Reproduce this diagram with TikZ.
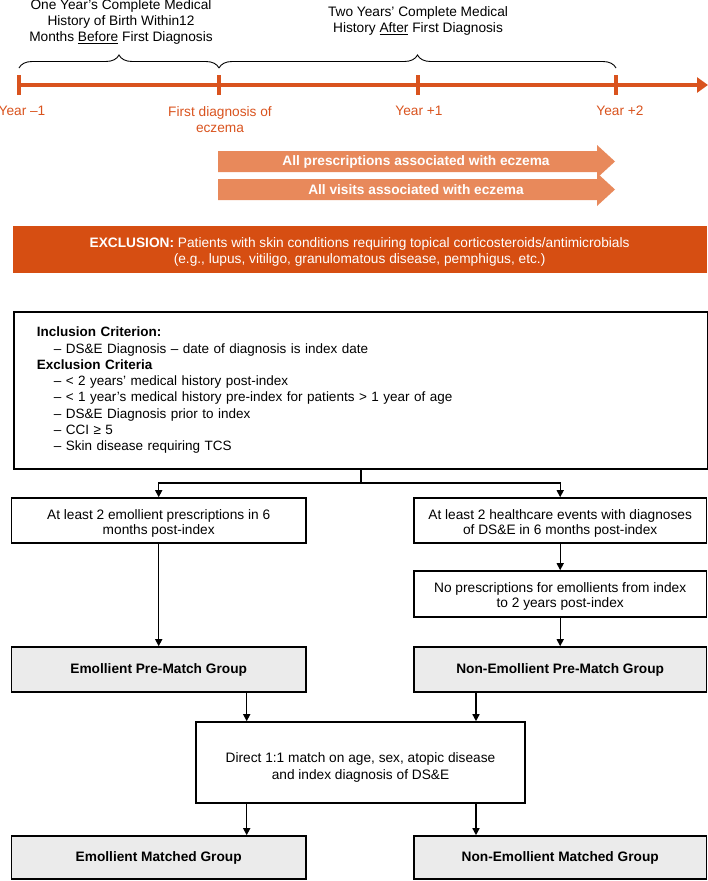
\documentclass[tikz,border=0pt]{standalone}
\usepackage{fontspec}
\setmainfont{Liberation Sans}
\usetikzlibrary{arrows.meta,decorations.pathreplacing,calc}
\definecolor{tlorange}{HTML}{D9531E}
\definecolor{arrorange}{HTML}{E8895B}
\definecolor{barorange}{HTML}{D64E12}
\definecolor{grpgray}{HTML}{EBEBEB}
\tikzset{
  hdr/.style={align=center, inner sep=0pt, font=\fontsize{13.7}{16}\selectfont},
  lbl/.style={align=center, inner sep=0pt, text=tlorange, font=\fontsize{13.7}{16}\selectfont},
  tlline/.style={line width=3.5pt, tlorange},
  tick/.style={line width=3.5pt, tlorange},
  bracepath/.style={decorate, decoration={brace, amplitude=13pt}, line width=0.9pt},
  bigarrow/.style={fill=arrorange},
  arrtext/.style={text=white, inner sep=0pt, font=\fontsize{13.7}{16}\selectfont\bfseries},
  exbar/.style={fill=barorange, minimum width=694pt, minimum height=47pt, inner sep=0pt},
  extext/.style={text=white, align=center, inner sep=0pt, font=\fontsize{13.7}{16.5}\selectfont},
  critbox/.style={draw, line width=1.6pt, align=left, text width=647.7pt, minimum height=157pt, inner xsep=23pt, inner ysep=0pt, font=\fontsize{13.5}{16.3}\selectfont},
  flowbox/.style={draw, line width=1.6pt, inner sep=0pt},
  boxtext/.style={align=center, inner sep=0pt, font=\fontsize{13.7}{15.7}\selectfont},
  grpbox/.style={draw, line width=1.6pt, fill=grpgray, align=center, inner sep=0pt, font=\bfseries\fontsize{13.7}{15.7}\selectfont},
  conn/.style={line width=1.4pt, -{Triangle[length=7pt,width=7pt]}},
  plainconn/.style={line width=1.4pt}
}
\begin{document}
\begin{tikzpicture}[x=1pt,y=-1pt]
\useasboundingbox (0,0) rectangle (708,881);

% header texts
\node[hdr] (h1) at (121,22) {One Year’s Complete Medical\\History of Birth Within12\\Months \underline{Before} First Diagnosis};
\node[hdr] (h2) at (418,21) {Two Years’ Complete Medical\\History \underline{After} First Diagnosis};

% braces
\coordinate (bA) at (19,68);
\coordinate (bB) at (219,68);
\coordinate (bC) at (616,68);
\draw[bracepath] (bA) -- (bB);
\draw[bracepath] (bB) -- (bC);

% timeline
\coordinate (t0) at (17.2,85);
\coordinate (t1) at (19,85);
\coordinate (t2) at (219,85);
\coordinate (t3) at (418,85);
\coordinate (t4) at (616,85);
\coordinate (tend) at (708,85);
\draw[tlline, -{Triangle[length=11pt,width=15pt]}] (t0) -- (tend);
\foreach \p in {t1,t2,t3,t4}{
  \draw[tick] ($(\p)+(0,-10)$) -- ($(\p)+(0,10)$);
}

% timeline labels
\node[lbl] (ym1) at (22,111) {Year –1};
\node[lbl] (fd) at (220,119.5) {First diagnosis of\\eczema};
\node[lbl] (yp1) at (419,111) {Year +1};
\node[lbl] (yp2) at (620,111) {Year +2};

% big arrows
\fill[bigarrow] (218,151) -- (597,151) -- (597,145) -- (615,161.5) -- (597,178) -- (597,172) -- (218,172) -- cycle;
\node[arrtext] (a1) at (416,161.5) {All prescriptions associated with eczema};
\fill[bigarrow] (218,179) -- (597,179) -- (597,173) -- (615,189.5) -- (597,206) -- (597,200) -- (218,200) -- cycle;
\node[arrtext] (a2) at (416,189.5) {All visits associated with eczema};

% exclusion bar
\node[exbar] (excl) at (359.6,249.5) {};
\node[extext] (exclt) at (359.6,252) {{\bfseries EXCLUSION:} Patients with skin conditions requiring topical corticosteroids/antimicrobials\\(e.g., lupus, vitiligo, granulomatous disease, pemphigus, etc.)};

% criteria box
\node[critbox, anchor=north west] (inc) at (13,311) {%
\textbf{Inclusion Criterion:}\\
\hspace*{17pt}– DS\&E Diagnosis – date of diagnosis is index date\\
\textbf{Exclusion Criteria}\\
\hspace*{17pt}– < 2 years’ medical history post-index\\
\hspace*{17pt}– < 1 year’s medical history pre-index for patients > 1 year of age\\
\hspace*{17pt}– DS\&E Diagnosis prior to index\\
\hspace*{17pt}– CCI ≥ 5\\
\hspace*{17pt}– Skin disease requiring TCS};

% flow boxes
\node[flowbox, minimum width=294.7pt, minimum height=45pt] (b1) at (158.7,520.5) {};
\node[boxtext] (b1t) at (158.7,523.5) {At least 2 emollient prescriptions in 6\\months post-index};
\node[flowbox, minimum width=292.5pt, minimum height=45pt] (b2) at (560.2,520.5) {};
\node[boxtext] (b2t) at (560.2,523.5) {At least 2 healthcare events with diagnoses\\of DS\&E in 6 months post-index};
\node[flowbox, minimum width=292.5pt, minimum height=46pt] (b3) at (560.2,594) {};
\node[boxtext] (b3t) at (560.2,596.5) {No prescriptions for emollients from index\\to 2 years post-index};

\node[grpbox, minimum width=294.7pt, minimum height=45pt] (pm1) at (158.7,669.5) {Emollient Pre-Match Group};
\node[grpbox, minimum width=292.5pt, minimum height=45pt] (pm2) at (560.2,669.5) {Non-Emollient Pre-Match Group};

\node[flowbox, minimum width=329pt, minimum height=81pt] (mt) at (360.5,762.5) {};
\node[boxtext, font=\fontsize{13.7}{17.5}\selectfont] (mtt) at (360.5,767.5) {Direct 1:1 match on age, sex, atopic disease\\and index diagnosis of DS\&E};

\node[grpbox, minimum width=294.7pt, minimum height=43pt] (mg1) at (158.7,857.5) {Emollient Matched Group};
\node[grpbox, minimum width=292.5pt, minimum height=43pt] (mg2) at (560.2,857.5) {Non-Emollient Matched Group};

% connectors
\coordinate (jn) at (361,483);
\coordinate (cx1) at (246.7,0);
\coordinate (cx2) at (476,0);
\draw[plainconn] (inc.south -| jn) -- (jn);
\draw[conn] (jn) -| (b1.north);
\draw[conn] (jn) -| (b2.north);
\draw[conn] (b1.south) -- (pm1.north);
\draw[conn] (b2.south) -- (b3.north);
\draw[conn] (b3.south) -- (pm2.north);
\draw[conn] (pm1.south -| cx1) -- (mt.north -| cx1);
\draw[conn] (pm2.south -| cx2) -- (mt.north -| cx2);
\draw[conn] (mt.south -| cx1) -- (mg1.north -| cx1);
\draw[conn] (mt.south -| cx2) -- (mg2.north -| cx2);
\end{tikzpicture}
\end{document}
